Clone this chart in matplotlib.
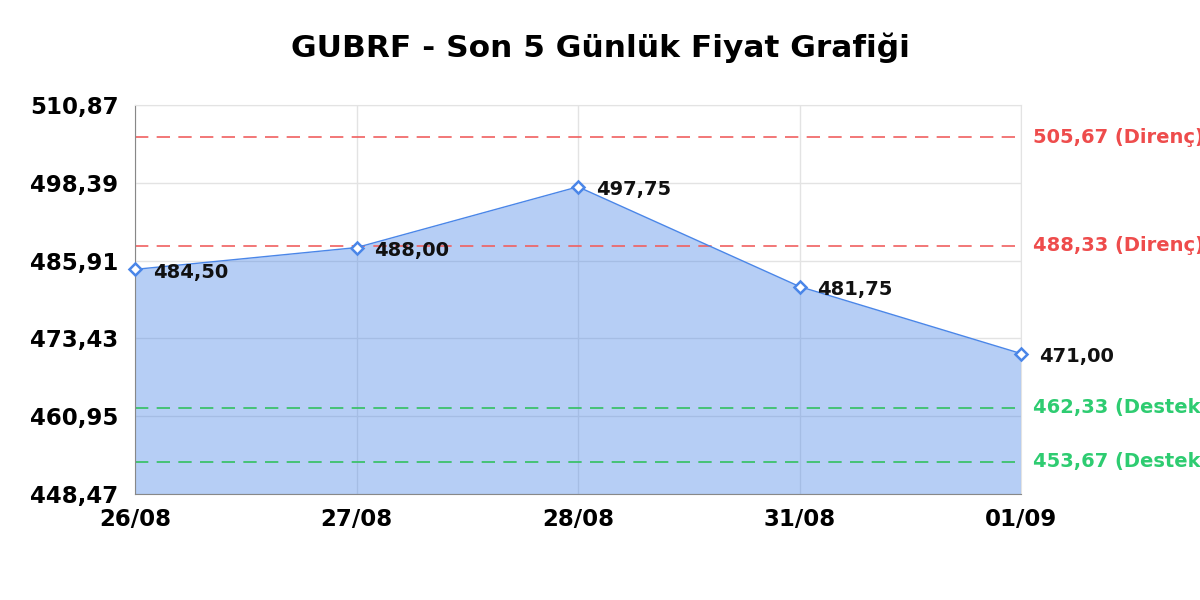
import matplotlib
matplotlib.use('Agg')
import matplotlib.pyplot as plt

# price data
dates = ['26/08', '27/08', '28/08', '31/08', '01/09']
prices = [484.50, 488.00, 497.75, 481.75, 471.00]

# support / resistance levels
resistance = [505.67, 488.33]
support = [462.33, 453.67]

y_ticks = [448.47, 460.95, 473.43, 485.91, 498.39, 510.87]


def tr(v):
    return '{:.2f}'.format(v).replace('.', ',')


fig = plt.figure(figsize=(12, 6), dpi=100)
ax = fig.add_axes([135 / 1200, 1 - 494 / 600, 886 / 1200, 389 / 600])

x = list(range(len(dates)))
ax.fill_between(x, prices, y_ticks[0], color='#4a86e8', alpha=0.4, lw=0, zorder=1)
ax.plot(x, prices, color='#4a86e8', lw=1, zorder=3,
        marker='D', ms=6, mfc='white', mec='#4a86e8', mew=1.8, clip_on=False)

for xi, p in zip(x, prices):
    ax.annotate(tr(p), (xi, p), xytext=(13, -2), textcoords='offset points',
                ha='left', va='center', fontsize=14, fontweight='bold',
                color='#111111', zorder=4, annotation_clip=False)

for lvl in resistance:
    ax.axhline(lvl, color='#f06060', lw=1.2, ls=(0, (8, 5)), zorder=2)
    ax.text(1.013, lvl, tr(lvl) + ' (Direnç)', transform=ax.get_yaxis_transform(),
            color='#ee4c4c', fontsize=14, fontweight='bold', va='center', ha='left')
for lvl in support:
    ax.axhline(lvl, color='#33c060', lw=1.2, ls=(0, (8, 5)), zorder=2)
    ax.text(1.013, lvl, tr(lvl) + ' (Destek)', transform=ax.get_yaxis_transform(),
            color='#2ecc71', fontsize=14, fontweight='bold', va='center', ha='left')

ax.set_xlim(0, len(dates) - 1)
ax.set_ylim(y_ticks[0], y_ticks[-1])
ax.set_xticks(x)
ax.set_xticklabels(dates)
ax.set_yticks(y_ticks)
ax.set_yticklabels([tr(v) for v in y_ticks])
ax.tick_params(length=0, labelsize=16.5)
ax.tick_params(axis='y', pad=12)
ax.tick_params(axis='x', pad=10)
for lab in ax.get_xticklabels() + ax.get_yticklabels():
    lab.set_fontweight('bold')
ax.grid(True, color='#e3e3e3', lw=1, zorder=0)
ax.set_axisbelow(True)
for s in ['top', 'right']:
    ax.spines[s].set_color('#e3e3e3')
for s in ['left', 'bottom']:
    ax.spines[s].set_color('#888888')

fig.text(0.5, 1 - 48 / 600, 'GUBRF - Son 5 Günlük Fiyat Grafiği', ha='center', va='center',
         fontsize=22.5, fontweight='bold')

fig.savefig('out.png', dpi=100)
